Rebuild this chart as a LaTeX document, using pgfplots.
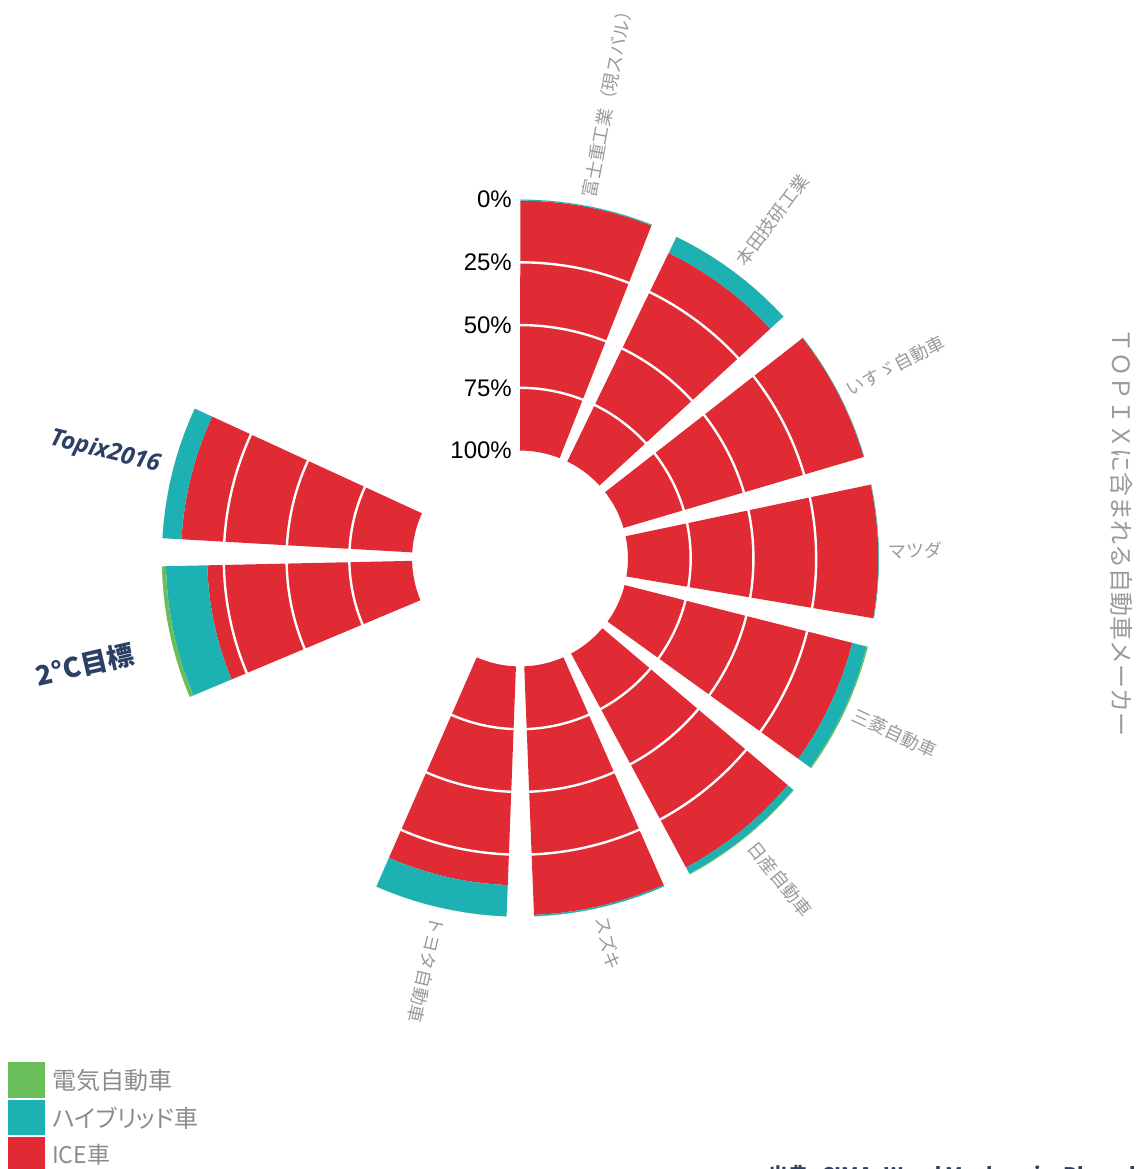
\documentclass[border=0pt]{standalone}
\usepackage{pgfplots}
\usepackage{pgfplotstable}
\usepgfplotslibrary{polar}
\pgfplotsset{compat=1.18}
\usepackage{fontspec}
\setmainfont{Liberation Sans}
\newfontfamily\jp{Noto Sans CJK JP}
\newfontfamily\jpp[RawFeature=+palt]{Noto Sans CJK JP}
\newfontfamily\os{Open Sans}
\definecolor{ice}{HTML}{E12B34}
\definecolor{hv}{HTML}{1DB1B3}
\definecolor{ev}{HTML}{6ABE5A}
\definecolor{lab}{HTML}{9A9A9A}
\definecolor{leg}{HTML}{8C8C8C}
\definecolor{navy}{HTML}{2C4066}

% angle of the bar centre (deg), ICE / hybrid / electric share (%)
\pgfplotstableread{
ang    ice   hv    ev
79.2   99.6  0.4   0.0
53.3   92.4  7.1   0.0
27.2   99.8  0.2   0.0
1.15   99.8  0.2   0.0
-25.0  93.6  5.9   0.5
-51.0  96.8  2.8   0.3
-77.0  99.1  0.6   0.0
-102.9 87.2  12.5  0.0
192.0  81.6  16.5  1.6
166.0  92.1  7.6   0.0
}\shares

\newcommand\sector[4]{%
  \pgfmathsetmacro\aS{#1-10.75}%
  \def\pts{}%
  \foreach \k in {0,...,10}{\pgfmathsetmacro\th{\aS+2.15*\k}\xdef\pts{\pts(\th,#3)}}%
  \foreach \k in {10,...,0}{\pgfmathsetmacro\th{\aS+2.15*\k}\xdef\pts{\pts(\th,#2)}}%
  \edef\tmp{\noexpand\addplot[draw=none,fill=#4,forget plot] coordinates {\pts};}%
  \tmp
}

\begin{document}
\begin{tikzpicture}[x=1pt,y=1pt]
\useasboundingbox (0,0) rectangle (1146,1169);
\begin{polaraxis}[
  at={(520pt,610.5pt)}, anchor=center,
  width=753pt, height=753pt, scale only axis,
  xmin=0, xmax=360, ymin=0, ymax=150,
  xtick=\empty, ytick={68,93,118}, yticklabels={},
  ymajorgrids,
  major grid style={white, line width=2.4pt},
  major tick length=0pt,
  axis line style={draw=none},
  axis on top, clip=false,
]
\pgfplotstablegetrowsof{\shares}\pgfmathtruncatemacro\nrows{\pgfplotsretval-1}
\foreach \i in {0,...,\nrows}{%
  \pgfplotstablegetelem{\i}{ang}\of\shares\let\ang\pgfplotsretval
  \pgfplotstablegetelem{\i}{ice}\of\shares\let\vi\pgfplotsretval
  \pgfplotstablegetelem{\i}{hv}\of\shares\let\vh\pgfplotsretval
  \pgfplotstablegetelem{\i}{ev}\of\shares\let\ve\pgfplotsretval
  \pgfmathsetmacro\rA{43+\vi}%
  \pgfmathsetmacro\rB{\rA+\vh}%
  \pgfmathsetmacro\rC{\rB+\ve}%
  \sector{\ang}{43}{\rA}{ice}%
  \sector{\ang}{\rA}{\rB}{hv}%
  \sector{\ang}{\rB}{\rC}{ev}%
}
% anchor points for the radial tick labels
\coordinate (t0) at (axis cs:90,143);
\coordinate (t25) at (axis cs:90,118);
\coordinate (t50) at (axis cs:90,93);
\coordinate (t75) at (axis cs:90,68);
\coordinate (t100) at (axis cs:90,43);
% category labels
\node[rotate=79.2, anchor=west, inner sep=0pt, text=lab, font=\jp\fontsize{18}{20}\selectfont] at (axis cs:79.2,146.6)  {富士重工業（現スバル）};
\node[rotate=53.3, anchor=west, inner sep=0pt, text=lab, font=\jp\fontsize{18}{20}\selectfont] at (axis cs:53.3,146.6)  {本田技研工業};
\node[rotate=27.2, anchor=west, inner sep=0pt, text=lab, font=\jp\fontsize{18}{20}\selectfont] at (axis cs:27.2,146.6)  {いすゞ自動車};
\node[rotate=1.15, anchor=west, inner sep=0pt, text=lab, font=\jp\fontsize{18}{20}\selectfont] at (axis cs:1.15,146.6)  {マツダ};
\node[rotate=-25, anchor=west, inner sep=0pt, text=lab, font=\jp\fontsize{18}{20}\selectfont] at (axis cs:-25,146.6)   {三菱自動車};
\node[rotate=-51, anchor=west, inner sep=0pt, text=lab, font=\jp\fontsize{18}{20}\selectfont] at (axis cs:-51,146.6)   {日産自動車};
\node[rotate=-77, anchor=west, inner sep=0pt, text=lab, font=\jp\fontsize{18}{20}\selectfont] at (axis cs:-77,146.6)   {スズキ};
\node[rotate=-102.9, anchor=west, inner sep=0pt, text=lab, font=\jp\fontsize{18}{20}\selectfont] at (axis cs:-102.9,146.6) {トヨタ自動車};
\end{polaraxis}
% radial tick labels (above the white grid circles)
\begin{scope}[every node/.style={anchor=east, inner sep=0pt, xshift=-8pt, font=\fontsize{24}{26}\selectfont}]
\node at (t0) {0\%};
\node at (t25) {25\%};
\node at (t50) {50\%};
\node at (t75) {75\%};
\node at (t100) {100\%};
\end{scope}
% left annotations
\node[rotate=-14, text=navy, font=\os\bfseries\itshape\fontsize{24}{26}\selectfont] at (105,717) {Topix2016};
\node[rotate=13, text=navy, font=\jp\bfseries\fontsize{27}{29}\selectfont] at (85,504) {2°C目標};
% right title
\node[rotate=-90, text=lab, font=\jp\fontsize{24}{26}\selectfont] at (1122,636.5) {ＴＯＰＩＸに含まれる自動車メーカー};
% legend
\fill[ev] (8,71) rectangle (45,107);
\fill[hv] (8,34) rectangle (45,69);
\fill[ice] (8,-5) rectangle (45,32);
\node[anchor=west, inner sep=0pt, text=leg, font=\jpp\fontsize{24}{26}\selectfont] at (52,89) {電気自動車};
\node[anchor=west, inner sep=0pt, text=leg, font=\jpp\fontsize{24}{26}\selectfont] at (52,51) {ハイブリッド車};
\node[anchor=west, inner sep=0pt, text=leg, font=\jpp\fontsize{23}{25}\selectfont] at (52,14) {ICE車};
% source (cut off at the bottom edge)
\node[anchor=base west, inner sep=0pt, text=navy, font=\jp\bfseries\fontsize{20}{22}\selectfont] at (768,-13) {出典: CIMA, Wood Mackenzie, Bloomberg};
\end{tikzpicture}
\end{document}
